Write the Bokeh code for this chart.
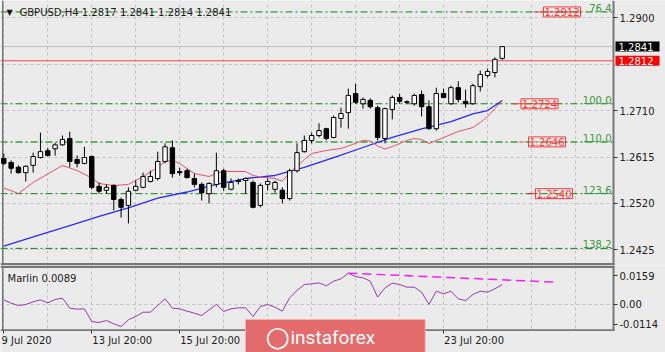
from bokeh.plotting import figure
from bokeh.layouts import column
from bokeh.models import (Range1d, FixedTicker, Label, Span, PrintfTickFormatter, LinearAxis,
                          BoxAnnotation)
from bokeh.embed import file_html
from bokeh.resources import INLINE

# ---------------- data ----------------
opens = [1.2612, 1.2604, 1.2594, 1.2583, 1.2598, 1.2614, 1.2628, 1.2632, 1.2640, 1.2653,
         1.2610, 1.2602, 1.2616, 1.2555, 1.2547, 1.2557, 1.2528, 1.2516, 1.2547, 1.2553,
         1.2565, 1.2571, 1.2606, 1.2634, 1.2585, 1.2587, 1.2571, 1.2559, 1.2540, 1.2559,
         1.2587, 1.2549, 1.2567, 1.2567, 1.2563, 1.2516, 1.2559, 1.2549, 1.2547, 1.2530,
         1.2587, 1.2626, 1.2649, 1.2659, 1.2673, 1.2655, 1.2694, 1.2706, 1.2745, 1.2724,
         1.2731, 1.2716, 1.2653, 1.2712, 1.2737, 1.2728, 1.2724, 1.2743, 1.2718, 1.2673,
         1.2745, 1.2724, 1.2757, 1.2729, 1.2724, 1.2759, 1.2782, 1.2788, 1.2817]
highs = [1.2622, 1.2608, 1.2598, 1.2598, 1.2624, 1.2665, 1.2634, 1.2644, 1.2659, 1.2667,
         1.2618, 1.2636, 1.2618, 1.2563, 1.2559, 1.2559, 1.2532, 1.2553, 1.2567, 1.2583,
         1.2587, 1.2626, 1.2643, 1.2649, 1.2593, 1.2591, 1.2581, 1.2563, 1.2563, 1.2624,
         1.2591, 1.2571, 1.2571, 1.2573, 1.2567, 1.2561, 1.2571, 1.2567, 1.2553, 1.2591,
         1.2643, 1.2659, 1.2665, 1.2684, 1.2675, 1.2700, 1.2716, 1.2755, 1.2765, 1.2737,
         1.2735, 1.2720, 1.2716, 1.2741, 1.2745, 1.2731, 1.2745, 1.2751, 1.2731, 1.2757,
         1.2755, 1.2761, 1.2770, 1.2753, 1.2765, 1.2792, 1.2796, 1.2819, 1.2841]
lows = [1.2598, 1.2581, 1.2581, 1.2565, 1.2583, 1.2612, 1.2616, 1.2618, 1.2638, 1.2594,
        1.2594, 1.2600, 1.2549, 1.2540, 1.2540, 1.2506, 1.2491, 1.2479, 1.2545, 1.2551,
        1.2563, 1.2567, 1.2602, 1.2573, 1.2577, 1.2571, 1.2553, 1.2526, 1.2520, 1.2553,
        1.2546, 1.2547, 1.2559, 1.2540, 1.2510, 1.2512, 1.2547, 1.2542, 1.2520, 1.2526,
        1.2583, 1.2624, 1.2643, 1.2655, 1.2649, 1.2653, 1.2675, 1.2673, 1.2724, 1.2714,
        1.2714, 1.2649, 1.2643, 1.2692, 1.2724, 1.2724, 1.2720, 1.2698, 1.2671, 1.2669,
        1.2735, 1.2722, 1.2727, 1.2716, 1.2722, 1.2749, 1.2778, 1.2778, 1.2814]
closes = [1.2602, 1.2592, 1.2583, 1.2596, 1.2616, 1.2626, 1.2618, 1.2640, 1.2651, 1.2606,
          1.2602, 1.2614, 1.2553, 1.2545, 1.2553, 1.2528, 1.2512, 1.2545, 1.2555, 1.2575,
          1.2575, 1.2606, 1.2636, 1.2581, 1.2583, 1.2573, 1.2559, 1.2542, 1.2561, 1.2587,
          1.2553, 1.2563, 1.2565, 1.2571, 1.2512, 1.2557, 1.2565, 1.2563, 1.2530, 1.2587,
          1.2624, 1.2649, 1.2659, 1.2669, 1.2653, 1.2696, 1.2704, 1.2741, 1.2727, 1.2733,
          1.2718, 1.2655, 1.2714, 1.2737, 1.2729, 1.2727, 1.2741, 1.2718, 1.2673, 1.2745,
          1.2737, 1.2757, 1.2733, 1.2724, 1.2761, 1.2784, 1.2790, 1.2815, 1.2841]

# fast (red) moving average, read at these bars
red_ma_bar = [0, 2, 4, 6, 8, 10, 12, 13, 15, 17, 19, 21, 22, 23, 24, 26, 28, 29, 30, 33,
              34, 35, 37, 38, 39, 40, 41, 42, 44, 46, 47, 49, 50, 51, 52, 53, 55, 56, 57,
              58, 60, 62, 64, 65, 66, 67, 68]
red_ma_val = [1.25516, 1.25403, 1.25629, 1.25803, 1.25977, 1.25874, 1.25721, 1.25608,
              1.25567, 1.25589, 1.25751, 1.25936, 1.26058, 1.26079, 1.26017, 1.25813,
              1.25751, 1.25813, 1.25854, 1.25854, 1.25772, 1.25741, 1.25711, 1.25655,
              1.25833, 1.25956, 1.26099, 1.26222, 1.26284, 1.26325, 1.26376, 1.26488,
              1.26478, 1.26376, 1.26314, 1.26365, 1.26488, 1.26529, 1.26509, 1.26427,
              1.26550, 1.26673, 1.26754, 1.26857, 1.26980, 1.27143, 1.27307]
# slow (blue) moving average
blue_ma_bar = [0, 5, 9, 13, 17, 21, 25, 29, 33, 37, 41, 45, 49, 53, 57, 61, 64, 66, 68]
blue_ma_val = [1.24325, 1.24564, 1.24748, 1.24933, 1.25107, 1.25311, 1.25434, 1.25588,
               1.25710, 1.25772, 1.25936, 1.26140, 1.26345, 1.26550, 1.26724, 1.26877,
               1.27031, 1.27102, 1.27307]

# Marlin oscillator, one value per bar
marlin = [0.00235, 0.00047, -0.00085, -0.00028, 0.00122, 0.00235, 0.00066, 0.00254, 0.00329,
          -0.00235, -0.00291, -0.00273, -0.00987, -0.01043, -0.00931, -0.01119, -0.01269,
          -0.00893, -0.00705, -0.00461, -0.00461, -0.00085, 0.00291, -0.00235, -0.00273,
          -0.00404, -0.00517, -0.00649, -0.00329, -0.00028, -0.00423, -0.00273, -0.00216,
          -0.00216, -0.00705, -0.00141, -0.00028, -0.00179, -0.00404, 0.00348, 0.00761,
          0.01100, 0.01138, 0.01194, 0.01025, 0.01288, 0.01419, 0.01739, 0.01551, 0.01476,
          0.01288, 0.00385, 0.00912, 0.01175, 0.01100, 0.00949, 0.00949, 0.00667, -0.00028,
          0.00724, 0.00574, 0.00724, 0.00291, 0.00197, 0.00536, 0.00724, 0.00667, 0.00856,
          0.01100]
marlin_trend_bar = [47, 75.5]
marlin_trend_val = [0.01739, 0.0123]

fib_levels = [1.2912, 1.2724, 1.2646, 1.2540, 1.2428]
fib_names = ["76.4", "100.0", "110.0", "123.6", "138.2"]
target_levels = [1.2912, 1.2724, 1.2646, 1.2540]
resistance = 1.2812
last_price = 1.2841

price_ticks = [1.2425, 1.2520, 1.2615, 1.2710, 1.2900]
price_grid = [1.2425, 1.2520, 1.2615, 1.2710, 1.2805, 1.2900]
marlin_ticks = [-0.0114, 0.0, 0.0159]
marlin_tick_text = ["-0.0114", "0.00", "0.0159"]
date_ticks = [0, 12, 24, 36, 48, 60]
date_labels = ["9 Jul 2020", "13 Jul 20:00", "15 Jul 20:00", "17 Jul 20:00",
               "21 Jul 20:00", "23 Jul 20:00"]
title_text = "GBPUSD,H4  1.2817 1.2841 1.2814 1.2841"
marlin_title = "Marlin 0.0089"
watermark = "instaforex"

# ---------------- geometry / style ----------------
BG = "#ebebeb"
FONT = "DejaVu Sans"
TXT = "#1c1c1c"
GRID = "#c2c2c2"
FRAME = "#787878"

W = 665
H1, H2 = 265, 87
BAR0, BAR_W = 3.3, 7.33          # page x of bar 0, pixels per bar
P_TOP, P_PX = 1.293541, 0.0002047  # price at page y 0, price per pixel
M_ZERO, M_PX = 303.5, 0.000564     # page y of Marlin 0, value per pixel


def bx(px):          # page x -> bar coordinate
    return (px - BAR0) / BAR_W


def py(px):          # page y -> price (upper panel)
    return P_TOP - px * P_PX


def my(px):          # page y -> Marlin value (lower panel)
    return (M_ZERO - px) * M_PX


EDGE = bx(613)       # right edge of the chart area
bars = list(range(len(opens)))
x_range = Range1d(bx(0), bx(W))

# ================= upper panel =================
p1 = figure(width=W, height=H1, x_range=x_range, y_range=Range1d(py(H1), py(0)),
            output_backend="svg", toolbar_location=None,
            x_axis_location=None, y_axis_location="right",
            min_border_left=0, min_border_right=0, min_border_top=0, min_border_bottom=0,
            background_fill_color=BG, border_fill_color=BG, outline_line_color=None)

p1.xgrid.ticker = FixedTicker(ticks=list(range(0, 84, 6)))
p1.ygrid.ticker = FixedTicker(ticks=price_grid)
for g in (p1.xgrid, p1.ygrid):
    g.grid_line_color = GRID
    g.grid_line_dash = "3 3"

# fibonacci levels
for lvl, name in zip(fib_levels, fib_names):
    light = name == "110.0"
    p1.add_layout(Span(location=lvl, dimension="width", level="underlay",
                       line_color="#62b462" if light else "#0f800f",
                       line_width=2 if light else 1, line_dash="7 3 2 3"))
p1.add_layout(Span(location=last_price, dimension="width", level="underlay",
                   line_color="#bdbdbd", line_width=1))
p1.add_layout(Span(location=resistance, dimension="width", level="underlay",
                   line_color="#f04646", line_width=1))

# price-scale strip and frame borders
p1.add_layout(BoxAnnotation(left=EDGE, fill_color=BG, fill_alpha=1, line_color=None,
                            level="underlay"))
p1.add_layout(BoxAnnotation(left=bx(1.5), right=bx(3), fill_color=FRAME, fill_alpha=1,
                            line_color=None, level="underlay"))
p1.add_layout(BoxAnnotation(left=bx(612), right=bx(614), fill_color=FRAME, fill_alpha=1,
                            line_color=None, level="underlay"))
p1.add_layout(BoxAnnotation(right=bx(614), top=py(262.5), fill_color=FRAME, fill_alpha=1,
                            line_color=None, level="underlay"))

ax = p1.yaxis[0]
ax.fixed_location = EDGE
ax.ticker = FixedTicker(ticks=price_ticks)
ax.formatter = PrintfTickFormatter(format="%.4f")
ax.axis_line_color = None
ax.major_tick_line_color = "#333333"
ax.major_tick_out = 4
ax.major_tick_in = 0
ax.minor_tick_line_color = None
ax.major_label_standoff = 2
ax.major_label_text_font = FONT
ax.major_label_text_font_size = "10px"
ax.major_label_text_color = TXT

# moving averages
p1.line(blue_ma_bar, blue_ma_val, line_color="#2a2aff", line_width=1.3)
p1.line(red_ma_bar, red_ma_val, line_color="#e8506a", line_width=1)

# candles
p1.segment(x0=bars, y0=lows, x1=bars, y1=highs, line_color="black", line_width=1)
tops = [max(o, c) for o, c in zip(opens, closes)]
bots = [min(o, c) for o, c in zip(opens, closes)]
fills = ["white" if c >= o else "black" for o, c in zip(opens, closes)]
p1.vbar(x=bars, width=0.6, top=tops, bottom=bots, fill_color=fills,
        line_color="black", line_width=1)

# fib level names
for lvl, name in zip(fib_levels, fib_names):
    p1.add_layout(Label(x=611, x_units="screen", y=lvl, text=name, text_align="right",
                        text_baseline="bottom", text_font=FONT, text_font_size="10px",
                        text_color="#3c9a3c"))

# target price labels
seg_from = [bx(533), bx(512), bx(518), bx(527)]
seg_to = [bx(580), bx(557), bx(565), bx(535)]
lab_x = [bx(561.5), bx(539), bx(546.5), bx(553.5)]
seg_col = ["#f03c3c", "#f03c3c", "#f28a8a", "#e02020"]
p1.segment(x0=seg_from, y0=target_levels, x1=seg_to, y1=target_levels,
           line_color=seg_col, line_width=1)
for lx, lvl in zip(lab_x, target_levels):
    p1.add_layout(Label(x=lx, y=lvl, text=f"{lvl:.4f}", text_align="center",
                        text_baseline="middle", text_font=FONT, text_font_size="10px",
                        text_color="#ff3a3a", border_line_color="#ff3a3a",
                        border_line_width=1, padding=1))

# price boxes on the price scale
for price, bgc in ((last_price, "black"), (resistance, "#ff0000")):
    p1.add_layout(Label(x=bx(615), y=price, text=f"{price:.4f}",
                        text_align="left", text_baseline="middle", text_font=FONT,
                        text_font_size="10px", text_color="white",
                        background_fill_color=bgc,
                        padding=dict(left=3, right=6, top=1, bottom=1)))

# title
p1.add_layout(Label(x=6, x_units="screen", y=py(12), text="\u25bc",
                    text_baseline="middle", text_font=FONT, text_font_size="8px",
                    text_color="#111111"))
p1.add_layout(Label(x=19, x_units="screen", y=py(12), text=title_text,
                    text_baseline="middle", text_font=FONT, text_font_size="10px",
                    text_color=TXT))

# ================= lower panel =================
p2 = figure(width=W, height=H2, x_range=x_range, y_range=Range1d(my(H1 + H2), my(H1)),
            output_backend="svg", toolbar_location=None,
            x_axis_location="below", y_axis_location="right",
            min_border_left=0, min_border_right=0, min_border_top=0, min_border_bottom=0,
            background_fill_color=BG, border_fill_color=BG, outline_line_color=None)
p2.xgrid.ticker = FixedTicker(ticks=list(range(0, 84, 6)))
p2.ygrid.ticker = FixedTicker(ticks=[0.0])
for g in (p2.xgrid, p2.ygrid):
    g.grid_line_color = GRID
    g.grid_line_dash = "3 3"

# strips outside the indicator window and its borders
p2.add_layout(BoxAnnotation(left=EDGE, fill_color=BG, fill_alpha=1, line_color=None,
                            level="underlay"))
p2.add_layout(BoxAnnotation(top=my(330), fill_color=BG, fill_alpha=1, line_color=None,
                            level="underlay"))
p2.add_layout(BoxAnnotation(right=bx(614), bottom=my(267.5), fill_color=FRAME,
                            fill_alpha=1, line_color=None, level="underlay"))
p2.add_layout(BoxAnnotation(right=bx(614), top=my(328.7), bottom=my(330.5),
                            fill_color=FRAME, fill_alpha=1, line_color=None,
                            level="underlay"))
for lft, rgt in ((1.5, 3), (612, 614)):
    p2.add_layout(BoxAnnotation(left=bx(lft), right=bx(rgt), bottom=my(330.5),
                                fill_color=FRAME, fill_alpha=1, line_color=None,
                                level="underlay"))

ay = p2.yaxis[0]
ay.fixed_location = EDGE
ay.ticker = FixedTicker(ticks=marlin_ticks)
ay.major_label_overrides = dict(zip(marlin_ticks, marlin_tick_text))

# tick marks at the true date positions (labels hidden)
ax2 = p2.xaxis[0]
ax2.fixed_location = my(330)
ax2.ticker = FixedTicker(ticks=date_ticks)
ax2.major_label_overrides = {t: "" for t in date_ticks}
ax2.major_label_text_font_size = "1px"
ax2.major_label_standoff = 0
ax2.major_tick_out = 3

# date labels starting at their tick (MT4 style, left aligned)
label_shift = [3.10] + [4.16] * (len(date_ticks) - 1)
label_pos = [round(t + s, 2) for t, s in zip(date_ticks, label_shift)]
ax3 = LinearAxis(ticker=FixedTicker(ticks=label_pos), fixed_location=my(330),
                 major_label_overrides=dict(zip(label_pos, date_labels)))
ax3.major_tick_out = 0
ax3.major_label_standoff = 4
p2.add_layout(ax3, "below")

for a in (ay, ax2, ax3):
    a.axis_line_color = None
    a.major_tick_line_color = "#333333"
    a.major_tick_in = 0
    a.minor_tick_line_color = None
    a.major_label_text_color = TXT
for a in (ay, ax3):
    a.major_label_text_font = FONT
    a.major_label_text_font_size = "10px"
ay.major_tick_out = 4
ay.major_label_standoff = 2

p2.line(bars, marlin, line_color="#9b36b3", line_width=1)
p2.line(marlin_trend_bar, marlin_trend_val, line_color="#ff1aff", line_width=1.5,
        line_dash="9 5")

p2.add_layout(Label(x=7, x_units="screen", y=my(277.5), text=marlin_title,
                    text_baseline="middle", text_font=FONT, text_font_size="10px",
                    text_color=TXT))

# watermark banner
p2.add_layout(Label(x=bx(245), y=my(336), text=watermark,
                    text_align="left", text_baseline="middle", text_font="Roboto",
                    text_font_size="19px", text_color="white", level="overlay",
                    background_fill_color="#e46b6b", border_line_color="#f2b3b3",
                    padding=dict(left=45, right=50, top=6, bottom=5)))
p2.add_layout(Label(x=bx(265), y=my(336), text="\u25cb",
                    text_align="left", text_baseline="middle", text_font=FONT,
                    text_font_size="28px", text_font_style="bold", text_color="white",
                    level="overlay"))

layout = column(p1, p2, spacing=0)
open("out.html", "w").write(file_html(layout, INLINE))
